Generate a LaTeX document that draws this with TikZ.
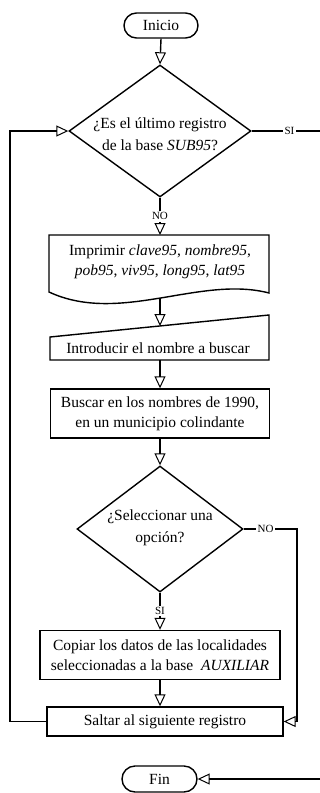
\documentclass[tikz,border=0pt]{standalone}
\usepackage{fontspec}
\setmainfont{Liberation Serif}
\usetikzlibrary{arrows.meta,shapes.geometric}
\begin{document}
\begin{tikzpicture}[x=1pt,y=-1pt,
  every node/.style={font=\fontsize{15.5}{20}\selectfont},
  ln/.style={line width=1.4pt},
  arr/.style={ln,-{Triangle[open,length=12pt,width=11pt,line width=1pt]}},
  term/.style={draw,ln,rounded corners=12.5pt,minimum width=74pt,minimum height=25pt,inner sep=0pt},
  proc/.style={draw,ln,align=center,inner sep=0pt},
  dec/.style={draw,ln,diamond,inner sep=0pt},
  txt/.style={align=center,inner sep=0pt},
  lab/.style={fill=white,inner sep=1.5pt,font=\fontsize{11}{13}\selectfont}]
\useasboundingbox (0,0) rectangle (320,793);

% Inicio
\node[term] (ini) at (161,25.5) {Inicio};

% decision 1
\node[dec,minimum width=182pt,minimum height=132pt] (d1) at (160,131) {};
\node[txt,font=\fontsize{15.5}{22.5}\selectfont] (d1t) at (160,134) {¿Es el último registro\\de la base \textit{SUB95}?};

% document shape (Imprimir)
\draw[ln] (49,235) -- (269,235) -- (269,293)
  .. controls (200,275) and (120,325) .. (49,292) -- cycle;
\coordinate (impN) at (160,235);
\coordinate (impS) at (160,298);
\node[txt] (imp) at (160,262) {Imprimir \textit{clave95}, \textit{nombre95},\\\textit{pob95}, \textit{viv95}, \textit{long95}, \textit{lat95}};

% manual input (Introducir)
\draw[ln] (50,337) -- (269,315) -- (269,360) -- (50,360) -- cycle;
\coordinate (intN) at (160,326);
\coordinate (intS) at (160,360);
\node[txt] (intro) at (158,348) {Introducir el nombre a buscar};

% Buscar
\node[proc,minimum width=219pt,minimum height=49pt] (bus) at (160,413.5) {Buscar en los nombres de 1990,\\en un municipio colindante};

% decision 2
\node[dec,minimum width=166pt,minimum height=126pt] (d2) at (160,529) {};
\node[txt,font=\fontsize{15.5}{21.5}\selectfont] (d2t) at (160,528) {¿Seleccionar una\\opción?};

% Copiar
\node[proc,minimum width=240pt,minimum height=49pt] (cop) at (160,655) {Copiar los datos de las localidades\\seleccionadas a la base\ \ \textit{AUXILIAR}};

% Saltar
\node[proc,minimum width=236pt,minimum height=29pt] (sal) at (165,721.5) {Saltar al siguiente registro};

% Fin
\node[term,minimum height=26pt,rounded corners=13pt,minimum width=75pt] (fin) at (159.5,779) {Fin};

% helper coordinates
\coordinate (lb) at (10,721.5);
\coordinate (lt) at (10,131);
\coordinate (rt) at (323,131);
\coordinate (rb) at (323,779);
\coordinate (nr) at (297,529);
\coordinate (nb) at (297,721.5);

% connectors
\draw[arr] (ini.south) -- (d1.north);
\draw[arr] (d1.south) -- node[lab] (no1) {NO} (impN);
\draw[arr] (impS) -- (intN);
\draw[arr] (intS) -- (bus.north);
\draw[arr] (bus.south) -- (d2.north);
\draw[arr] (d2.south) -- node[lab] (si2) {SI} (cop.north);
\draw[arr] (cop.south) -- (cop.south |- sal.north);
\draw[arr] (sal.west) -- (lb) -- (lt) -- (d1.west);
\draw[arr] (d1.east) -- node[lab,pos=0.53] (si1) {SI} (rt) -- (rb) -- (fin.east);
\draw[arr] (d2.east) -- node[lab,pos=0.41] (no2) {NO} (nr) -- (nb) -- (sal.east);
\end{tikzpicture}
\end{document}
